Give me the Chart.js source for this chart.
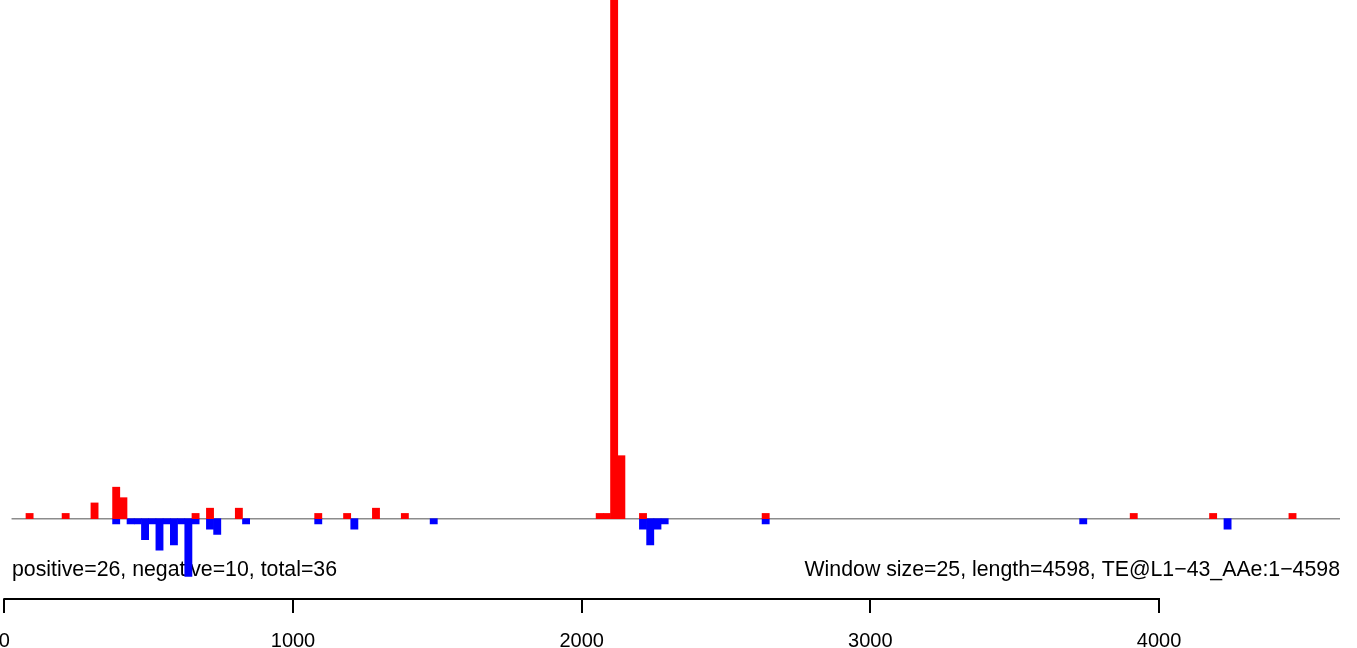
<!DOCTYPE HTML>
<html>

<head>
  <title>Window coverage</title>
  <meta content="width=device-width, initial-scale=1.0" name="viewport">
  <script src="https://cdn.jsdelivr.net/npm/chart.js"></script>
  <style>
    body { margin: 0; background: white; }
    .chart-container { position: relative; width: 1357px; height: 648px; }
  </style>
</head>

<body>
  <div class="chart-container">
    <canvas id="winChart"></canvas>
  </div>

  <script type="text/javascript">
    const ctx_win = document.getElementById('winChart');

    var windowSize = 25;
    var seqLength = 4598;

    // window start -> count (positive strand, drawn up)
    var posStart = [75, 200, 300, 375, 400, 650, 700, 800, 1075, 1175, 1275, 1375, 2050, 2075, 2100, 2125, 2200, 2625, 3900, 4175, 4450];
    var posValue = [1, 1, 3, 6, 4, 1, 2, 2, 1, 1, 2, 1, 1, 1, 120, 12, 1, 1, 1, 1, 1];

    // window start -> count (negative strand, drawn down)
    var negStart = [375, 425, 450, 475, 500, 525, 550, 575, 600, 625, 650, 700, 725, 825, 1075, 1200, 1475, 2200, 2225, 2250, 2275, 2625, 3725, 4225];
    var negValue = [1, 1, 1, 4, 1, 6, 1, 5, 1, 11, 1, 2, 3, 1, 1, 2, 1, 2, 5, 2, 1, 1, 1, 2];

    var xTicks = [0, 1000, 2000, 3000, 4000];
    var leftNote = "positive=26, negative=10, total=36";
    var rightNote = "Window size=25, length=4598, TE@L1\u221243_AAe:1\u22124598";

    var fontFamily = '"Liberation Sans", Arial, sans-serif';

    var posData = [];
    for (let i = 0; i < posStart.length; i++) {
      posData.push({ x: posStart[i] + windowSize / 2, y: posValue[i] });
    }
    var negData = [];
    for (let i = 0; i < negStart.length; i++) {
      negData.push({ x: negStart[i] + windowSize / 2, y: -negValue[i] });
    }

    // notes, zero line and the short R-style axis line
    const extrasPlugin = {
      id: 'extras',
      beforeDatasetsDraw(chart) {
        const { ctx, chartArea, scales } = chart;
        ctx.save();
        ctx.font = '21.3px ' + fontFamily;
        ctx.fillStyle = '#000';
        ctx.textBaseline = 'alphabetic';
        ctx.textAlign = 'left';
        ctx.fillText(leftNote, 12, 576);
        ctx.textAlign = 'right';
        ctx.fillText(rightNote, chartArea.right, 576);

        const y0 = scales.y.getPixelForValue(0);
        ctx.strokeStyle = '#8c8c8c';
        ctx.lineWidth = 1.5;
        ctx.beginPath();
        ctx.moveTo(scales.x.getPixelForValue(windowSize), y0);
        ctx.lineTo(chartArea.right, y0);
        ctx.stroke();
        ctx.restore();
      },
      afterDraw(chart) {
        const { ctx, chartArea, scales } = chart;
        ctx.save();
        ctx.strokeStyle = '#000';
        ctx.lineWidth = 2;
        ctx.beginPath();
        ctx.moveTo(scales.x.getPixelForValue(xTicks[0]) - 1, chartArea.bottom);
        ctx.lineTo(scales.x.getPixelForValue(xTicks[xTicks.length - 1]) + 1, chartArea.bottom);
        ctx.stroke();
        ctx.restore();
      }
    };

    var winChart = new Chart(ctx_win, {
      type: 'bar',
      plugins: [extrasPlugin],
      data: {
        datasets: [
          {
            label: 'positive',
            data: posData,
            backgroundColor: '#ff0000',
            grouped: false,
            barPercentage: 1.0,
            categoryPercentage: 1.0,
          },
          {
            label: 'negative',
            data: negData,
            backgroundColor: '#0000ff',
            grouped: false,
            barPercentage: 1.0,
            categoryPercentage: 1.0,
          },
        ],
      },
      options: {
        responsive: true,
        maintainAspectRatio: false,
        animation: false,
        layout: { padding: { left: 0, right: 17, top: 0, bottom: 0 } },
        plugins: {
          legend: { display: false },
          tooltip: { enabled: false },
        },
        scales: {
          x: {
            type: 'linear',
            min: -15,
            max: 4627,
            offset: false,
            border: { display: false },
            grid: { offset: false, drawOnChartArea: false, drawTicks: true, tickLength: 14, color: '#000', lineWidth: 2 },
            ticks: {
              color: '#000',
              font: { family: fontFamily, size: 20 },
              padding: 16,
              maxRotation: 0,
              autoSkip: false,
              callback: function (value) { return String(value); },
            },
            afterBuildTicks: function (scale) {
              scale.ticks = xTicks.map(v => ({ value: v }));
            },
            afterFit: function (scale) {
              scale.paddingLeft = 0;
              scale.paddingRight = 0;
              scale.height = 49;
            },
          },
          y: {
            display: false,
            min: -15.3,
            max: 98.8,
          },
        },
      },
    });
  </script>
</body>

</html>
